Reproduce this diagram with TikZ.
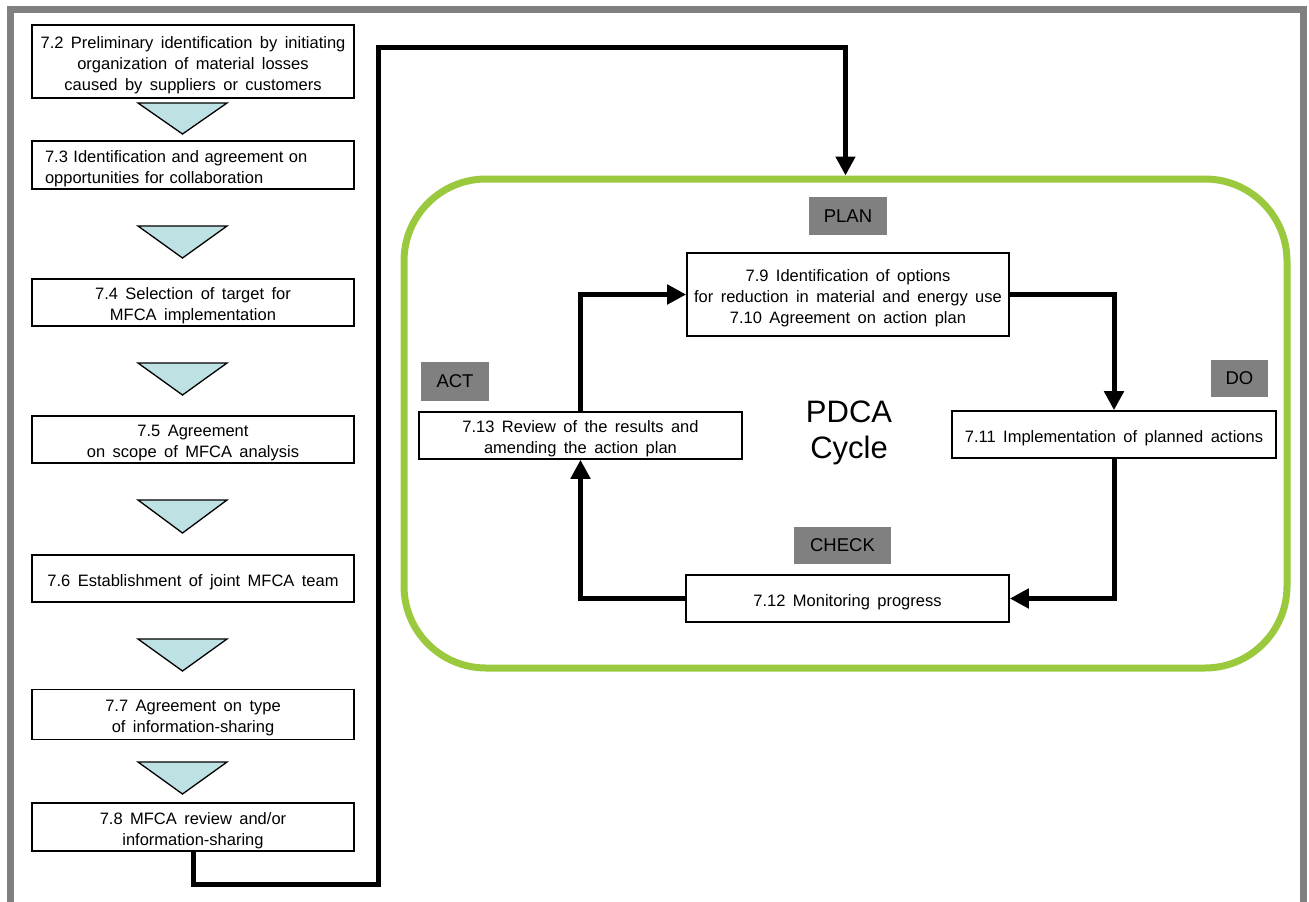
\documentclass[tikz,border=0pt]{standalone}
\usepackage{fontspec}
\setmainfont{Liberation Sans}
\usetikzlibrary{arrows.meta}
\definecolor{frame}{RGB}{128,128,128}
\definecolor{cyc}{RGB}{155,201,61}
\definecolor{tri}{RGB}{190,225,228}
\definecolor{lbl}{RGB}{128,128,128}
\newcommand{\boxfont}{\fontsize{16.5}{21}\selectfont\spaceskip=0.45em plus 0.1em}
\newcommand{\fl}{\rule{0pt}{19pt}}
\tikzset{
  box/.style={draw=black, line width=1.6pt, fill=white, inner sep=0pt, align=center,
    font=\boxfont},
  lab/.style={fill=lbl, inner sep=0pt, font=\fontsize{18.5}{22}\selectfont},
  arr/.style={line width=5pt, -{Triangle[length=19pt,width=19pt]}},
  trian/.style={draw=black, line width=1.3pt, fill=tri, line join=miter},
}
\begin{document}
\begin{tikzpicture}[x=1pt,y=-1pt]
\useasboundingbox (0,0) rectangle (1309,902);
% outer frame
\draw[frame, line width=7pt] (10.5,940) -- (10.5,9) -- (1303.5,9) -- (1303.5,940);
% green cycle
\node[draw=cyc, line width=7pt, rounded corners=82pt, minimum width=883pt, minimum height=489pt, inner sep=0pt] (cyc) at (845.5,423.5) {};
% left column
\node[box, minimum width=322pt, minimum height=73pt] (b72) at (193,61.5) {\fl 7.2 Preliminary identification by initiating\\ organization of material losses\\ caused by suppliers or customers};
\node[box, minimum width=322pt, minimum height=48pt, text width=296pt, align=left] (b73) at (193,165) {\fl 7.3 Identification and agreement on\\opportunities for collaboration};
\node[box, minimum width=322pt, minimum height=47pt] (b74) at (193,302.5) {\fl 7.4 Selection of target for\\ MFCA implementation};
\node[box, minimum width=322pt, minimum height=47pt] (b75) at (193,439.5) {\fl 7.5 Agreement\\ on scope of MFCA analysis};
\node[box, minimum width=322pt, minimum height=47pt] (b76) at (193,578.5) {\fl 7.6 Establishment of joint MFCA team};
\node[box, minimum width=322pt, minimum height=50pt] (b77) at (193,714.5) {\fl 7.7 Agreement on type\\ of information-sharing};
\node[box, minimum width=322pt, minimum height=48pt] (b78) at (193,827) {\fl 7.8 MFCA review and/or\\ information-sharing};
% triangles
\draw[trian] (138,103) -- (227,103) -- (182.5,134) -- cycle;
\draw[trian] (138,226) -- (227,226) -- (182.5,258) -- cycle;
\draw[trian] (138,363) -- (227,363) -- (182.5,395) -- cycle;
\draw[trian] (138,500) -- (227,500) -- (182.5,533) -- cycle;
\draw[trian] (138,639) -- (227,639) -- (182.5,671) -- cycle;
\draw[trian] (138,762) -- (227,762) -- (182.5,794) -- cycle;
% right boxes
\node[box, minimum width=322pt, minimum height=83pt] (b79) at (848,294.5) {\fl 7.9 Identification of options\\ for reduction in material and energy use\\ 7.10 Agreement on action plan};
\node[box, minimum width=324pt, minimum height=47pt] (b711) at (1114,434.5) {\fl 7.11 Implementation of planned actions};
\node[box, minimum width=323pt, minimum height=47pt] (b712) at (847.5,598.5) {\fl 7.12 Monitoring progress};
\node[box, minimum width=323pt, minimum height=47pt] (b713) at (580.5,435.5) {\fl 7.13 Review of the results and\\ amending the action plan};
% labels
\node[lab, minimum width=78pt, minimum height=38pt] (plan) at (848,216) {PLAN};
\node[lab, minimum width=57pt, minimum height=37pt] (do) at (1239.5,378.5) {DO};
\node[lab, minimum width=68pt, minimum height=39pt] (act) at (455,381.5) {ACT};
\node[lab, minimum width=97pt, minimum height=37pt] (check) at (842.5,545.5) {CHECK};
\node[align=center, inner sep=0pt, font=\fontsize{31}{36}\selectfont] (pdca) at (849,433) {PDCA\\Cycle};
% cycle arrows
\draw[arr] (b79.east) -| (b711.north);
\draw[arr] (b711.south) |- (b712.east);
\draw[arr] (b712.west) -| (b713.south);
\draw[arr] (b713.north) |- (b79.west);
% main connector
\coordinate (t1) at (378,884);
\coordinate (t2) at (378,47);
\draw[arr, line join=miter] (b78.south) |- (t1) -- (t2) -| (cyc.north);
\end{tikzpicture}
\end{document}
